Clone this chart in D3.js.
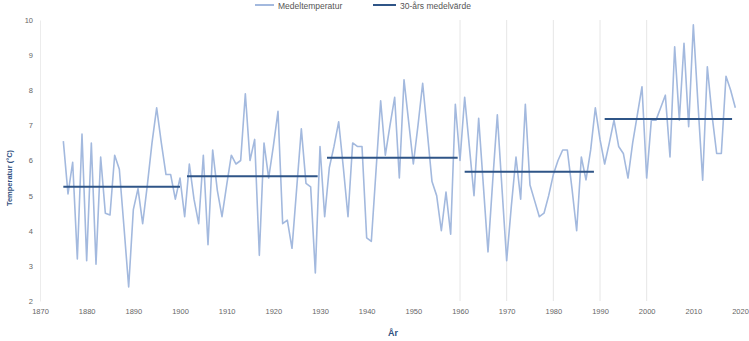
<!DOCTYPE html>
<html><head><meta charset="utf-8">
<script src="https://cdn.jsdelivr.net/npm/d3@7"></script>
<style>body{margin:0;background:#fff}svg{display:block}</style>
</head><body>
<svg id="c" width="749" height="341"></svg>
<script>
const startYear = 1875;
const temps = [
  6.55, 5.05, 5.95, 3.2, 6.75,
  3.15, 6.5, 3.05, 6.1, 4.5, 4.45, 6.15, 5.75, 4.1, 2.4,
  4.6, 5.2, 4.2, 5.3, 6.5, 7.5, 6.5, 5.6, 5.6, 4.9,
  5.5, 4.4, 5.9, 4.9, 4.2, 6.15, 3.6, 6.3, 5.15, 4.4,
  5.3, 6.15, 5.9, 6.0, 7.9, 6.0, 6.6, 3.3, 6.5, 5.5,
  6.4, 7.4, 4.2, 4.3, 3.5, 5.2, 6.9, 5.35, 5.25, 2.8,
  6.4, 4.4, 5.8, 6.4, 7.1, 5.8, 4.4, 6.5, 6.4, 6.4,
  3.8, 3.7, 5.7, 7.7, 6.15, 7.0, 7.8, 5.5, 8.3, 7.1,
  5.9, 7.0, 8.2, 6.8, 5.4, 5.0, 4.0, 5.1, 3.9, 7.6,
  6.0, 7.8, 6.4, 5.0, 7.2, 5.3, 3.4, 5.4, 7.3, 5.2,
  3.15, 4.7, 6.1, 4.9, 7.6, 5.3, 4.85, 4.4, 4.5, 5.0,
  5.6, 6.0, 6.3, 6.3, 5.2, 4.0, 6.1, 5.45, 6.3, 7.5,
  6.6, 5.9, 6.5, 7.15, 6.4, 6.2, 5.5, 6.5, 7.3, 8.1,
  5.5, 7.15, 7.15, 7.5, 7.86, 6.1, 9.24, 7.15, 9.34, 6.96,
  9.86, 7.6, 5.44, 8.67, 7.3, 6.2, 6.2, 8.4, 8.0, 7.5
];
const normalStart = [1875, 1901.5, 1931.5, 1961, 1991];
const normalEnd   = [1900, 1929.5, 1959.5, 1988.7, 2018.3];
const normalValue = [5.25, 5.55, 6.08, 5.68, 7.18];
const xTicks = [1870,1880,1890,1900,1910,1920,1930,1940,1950,1960,1970,1980,1990,2000,2010,2020];
const yTicks = [2,3,4,5,6,7,8,9,10];
const gridYears = [1960,1970,1980,1990,2000];
const seriesNames = ["Medeltemperatur", "30-års medelvärde"];

const svg = d3.select("#c");
const x = d3.scaleLinear().domain([1870, 2020]).range([40, 740]);
const y = d3.scaleLinear().domain([2, 10]).range([301, 20]);

// faint vertical gridlines
svg.append("g").selectAll("line").data(gridYears).join("line")
  .attr("x1", d => x(d)).attr("x2", d => x(d))
  .attr("y1", 20).attr("y2", 301)
  .attr("stroke", "#e6e6e6").attr("stroke-width", 1);

// y axis
const yAxis = svg.append("g").attr("transform", "translate(40,0)")
  .call(d3.axisLeft(y).tickValues(yTicks).tickSize(0).tickPadding(7).tickFormat(d3.format("d")));
yAxis.select(".domain").attr("stroke", "#ececec");
yAxis.selectAll("text").attr("fill", "#666").style("font-family", "Liberation Sans, Arial").style("font-size", "7.5px");

// x axis
const xAxis = svg.append("g").attr("transform", "translate(0,301)")
  .call(d3.axisBottom(x).tickValues(xTicks).tickSize(0).tickPadding(8).tickFormat(d3.format("d")));
xAxis.select(".domain").attr("stroke", "none");
xAxis.selectAll("text").attr("fill", "#666").style("font-family", "Liberation Sans, Arial").style("font-size", "7.5px");

// data line
const data = temps.map((v, i) => ({year: startYear + i, v}));
svg.append("path").datum(data)
  .attr("fill", "none").attr("stroke", "#a3b9de").attr("stroke-width", 1.6)
  .attr("stroke-linejoin", "round")
  .attr("d", d3.line().x(d => x(d.year)).y(d => y(d.v)));

// normals
svg.append("g").selectAll("line").data(normalValue).join("line")
  .attr("x1", (d, i) => x(normalStart[i])).attr("x2", (d, i) => x(normalEnd[i]))
  .attr("y1", d => y(d)).attr("y2", d => y(d))
  .attr("stroke", "#2f5587").attr("stroke-width", 2);

// axis titles
svg.append("text").attr("transform", "translate(12,178) rotate(-90)")
  .attr("text-anchor", "middle").attr("fill", "#2f4f80")
  .style("font-family", "Liberation Sans, Arial").style("font-size", "7.5px").style("font-weight", "bold")
  .text("Temperatur (°C)");
svg.append("text").attr("x", 393).attr("y", 336)
  .attr("text-anchor", "middle").attr("fill", "#2f4f80")
  .style("font-family", "Liberation Sans, Arial").style("font-size", "9px").style("font-weight", "bold")
  .text("År");

// legend
const leg = svg.append("g");
const legItems = [
  {name: seriesNames[0], color: "#a3b9de", x1: 255, x2: 274, tx: 278},
  {name: seriesNames[1], color: "#2f5587", x1: 373, x2: 396, tx: 400}
];
legItems.forEach(it => {
  leg.append("line").attr("x1", it.x1).attr("x2", it.x2).attr("y1", 5).attr("y2", 5)
    .attr("stroke", it.color).attr("stroke-width", 2);
  leg.append("text").attr("x", it.tx).attr("y", 8.5).attr("fill", "#555")
    .style("font-family", "Liberation Sans, Arial").style("font-size", "8.5px")
    .text(it.name);
});
</script>
</body></html>
